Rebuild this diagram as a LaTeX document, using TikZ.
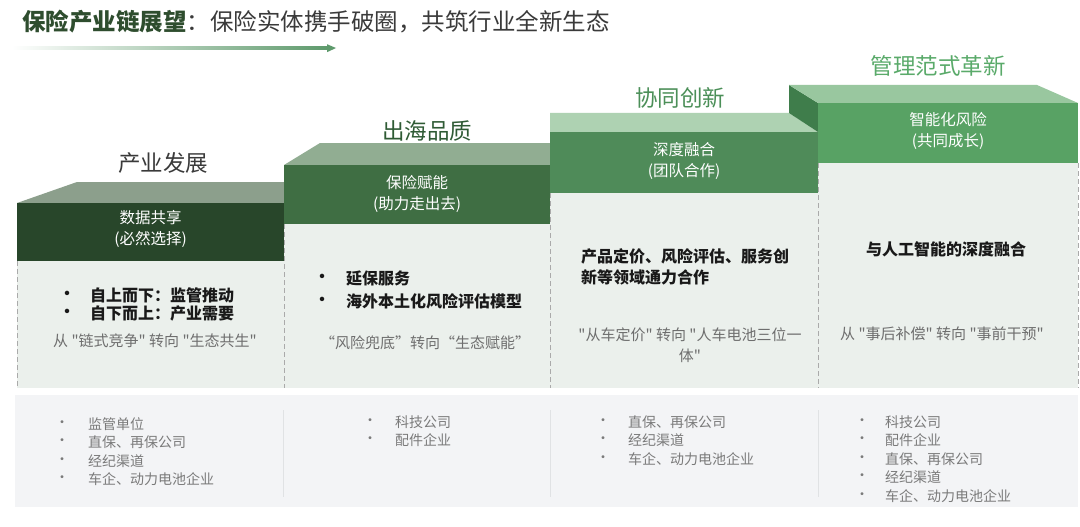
\documentclass[tikz,border=0pt]{standalone}
\usepackage{fontspec}
\setmainfont{Noto Sans CJK SC}[Ligatures=TeXOff]
\usetikzlibrary{arrows.meta}
\definecolor{titlegreen}{HTML}{2E4D2E}
\definecolor{titlegrey}{HTML}{3A3A3A}
\definecolor{arrowgreen}{HTML}{5E9A6C}
\definecolor{topA}{HTML}{8C9F8C}
\definecolor{bandA}{HTML}{28462A}
\definecolor{topB}{HTML}{91AD92}
\definecolor{bandB}{HTML}{3F6E43}
\definecolor{topC}{HTML}{AED2B2}
\definecolor{bandC}{HTML}{4F8B59}
\definecolor{sideD}{HTML}{3F7D4B}
\definecolor{topD}{HTML}{99C79F}
\definecolor{bandD}{HTML}{58A264}
\definecolor{bodyfill}{HTML}{EBF0EC}
\definecolor{panelfill}{HTML}{F3F4F6}
\definecolor{sepgrey}{HTML}{E0E2E4}
\definecolor{dashgrey}{HTML}{AAAAAA}
\definecolor{midgrey}{HTML}{6E6E6E}
\definecolor{listgrey}{HTML}{7A7A7A}
\definecolor{lblA}{HTML}{3A3A3A}
\definecolor{lblB}{HTML}{2F5B35}
\definecolor{lblC}{HTML}{4B8F58}
\definecolor{lblD}{HTML}{5AAA6A}
\begin{document}
\begin{tikzpicture}[x=1pt,y=-1pt,
  bandtxt/.style={text=white,font=\fontsize{15.5}{21}\selectfont,align=center,inner sep=0pt},
  lbl/.style={font=\fontsize{22.5}{26}\selectfont,inner sep=0pt},
  boldtxt/.style={font=\fontsize{16}{21}\selectfont\bfseries,inner sep=0pt,text=black!90},
  greytxt/.style={font=\fontsize{15}{21}\selectfont,text=midgrey,inner sep=0pt,align=center},
  blist/.style={font=\fontsize{14}{18}\selectfont,text=listgrey,inner sep=0pt,anchor=west},
  dashline/.style={draw=dashgrey,dash pattern=on 5pt off 3pt,line width=0.8pt},
  sepline/.style={draw=sepgrey,line width=0.6pt}]
\useasboundingbox (0,0) rectangle (1080,527);
\fill[white] (0,0) rectangle (1080,527);

% title
\node[anchor=west,inner sep=0pt,font=\fontsize{23.5}{28}\selectfont] (title) at (22,22)
  {{\bfseries\color{titlegreen}保险产业链展望}\color{titlegrey}：保险实体携手破圈，共筑行业全新生态};
\coordinate (arrS) at (12,48);
\coordinate (arrE) at (336,48);
\shade[left color=white,right color=arrowgreen] (12,47) rectangle (328,49.4);
\fill[arrowgreen] (327,44.2) -- (arrE) -- (327,52.2) -- cycle;

% bottom panel
\fill[panelfill] (15,395) rectangle (1078,507);
\draw[sepline] (283,410) -- (283,497);
\draw[sepline] (550,410) -- (550,497);
\draw[sepline] (818,410) -- (818,497);

% column bodies
\fill[bodyfill] (17,261) rectangle (284,388);
\fill[bodyfill] (284,224) rectangle (550,388);
\fill[bodyfill] (550,193) rectangle (818,388);
\fill[bodyfill] (818,163) rectangle (1078,388);

% column 1
\fill[topA] (17,203) -- (77,182) -- (284,182) -- (284,203) -- cycle;
\fill[bandA] (17,203) rectangle (284,261);
% column 2
\fill[topB] (284,165) -- (320,143) -- (550,143) -- (550,165) -- cycle;
\fill[bandB] (284,165) rectangle (550,224);
% column 3
\fill[topC] (550,113) -- (789,113) -- (818,132) -- (550,132) -- cycle;
\fill[bandC] (550,132) rectangle (818,193);
% column 4
\fill[sideD] (789,85) -- (818,103) -- (818,132) -- (789,113) -- cycle;
\fill[topD] (789,85) -- (1037,85) -- (1078,103) -- (818,103) -- cycle;
\fill[bandD] (818,103) rectangle (1078,163);

% dashed edges
\draw[dashline] (17,261) -- (17,388);
\draw[dashline] (284,224) -- (284,388);
\draw[dashline] (550,193) -- (550,388);
\draw[dashline] (818,163) -- (818,388);
\draw[dashline] (1078,163) -- (1078,388);

% stage labels
\node[lbl,text=lblA] (lA) at (163,163) {产业发展};
\node[lbl,text=lblB] (lB) at (427,131) {出海品质};
\node[lbl,text=lblC] (lC) at (680,98) {协同创新};
\node[lbl,text=lblD] (lD) at (938,66) {管理范式革新};

% band texts
\node[bandtxt] (bA) at (150.5,229) {数据共享\\(必然选择)};
\node[bandtxt] (bB) at (417,194) {保险赋能\\(助力走出去)};
\node[bandtxt] (bC) at (684,160.5) {深度融合\\(团队合作)};
\node[bandtxt] (bD) at (948,131) {智能化风险\\(共同成长)};

% column 1 body
\node[boldtxt] (a1d) at (67,295) {•};
\node[boldtxt,anchor=west] (a1t) at (90,295) {自上而下：监管推动};
\node[boldtxt] (a2d) at (67,313) {•};
\node[boldtxt,anchor=west] (a2t) at (90,313) {自下而上：产业需要};
\node[greytxt] (gA) at (155,341) {从 "链式竞争" 转向 "生态共生"};

% column 2 body
\node[boldtxt] (b1d) at (322,278) {•};
\node[boldtxt,anchor=west] (b1t) at (346,278) {延保服务};
\node[boldtxt] (b2d) at (322,301) {•};
\node[boldtxt,anchor=west] (b2t) at (346,301) {海外本土化风险评估模型};
\node[greytxt] (gB) at (425,343) {“风险兜底”转向“生态赋能”};

% column 3 body
\node[boldtxt,anchor=west] (c1t) at (581,256) {产品定价、风险评估、服务创};
\node[boldtxt,anchor=west] (c2t) at (581,277) {新等领域通力合作};
\node[greytxt] (gC1) at (690,335) {"从车定价" 转向 "人车电池三位一};
\node[greytxt] (gC2) at (690,356) {体"};

% column 4 body
\node[boldtxt] (d1t) at (946,249) {与人工智能的深度融合};
\node[greytxt] (gD) at (942,334) {从 "事后补偿" 转向 "事前干预"};

% bottom lists
\foreach \t [count=\i] in {监管单位,直保、再保公司,经纪渠道,车企、动力电池企业}{
  \node[blist,anchor=center] (pAd\i) at (62,{424+(\i-1)*18.5}) {•};
  \node[blist] (pAt\i) at (88,{424+(\i-1)*18.5}) {\t};}
\foreach \t [count=\i] in {科技公司,配件企业}{
  \node[blist,anchor=center] (pBd\i) at (370,{422+(\i-1)*18.5}) {•};
  \node[blist] (pBt\i) at (395,{422+(\i-1)*18.5}) {\t};}
\foreach \t [count=\i] in {直保、再保公司,经纪渠道,车企、动力电池企业}{
  \node[blist,anchor=center] (pCd\i) at (603,{422+(\i-1)*18.5}) {•};
  \node[blist] (pCt\i) at (628,{422+(\i-1)*18.5}) {\t};}
\foreach \t [count=\i] in {科技公司,配件企业,直保、再保公司,经纪渠道,车企、动力电池企业}{
  \node[blist,anchor=center] (pDd\i) at (862,{422+(\i-1)*18.5}) {•};
  \node[blist] (pDt\i) at (885,{422+(\i-1)*18.5}) {\t};}
\end{tikzpicture}
\end{document}
